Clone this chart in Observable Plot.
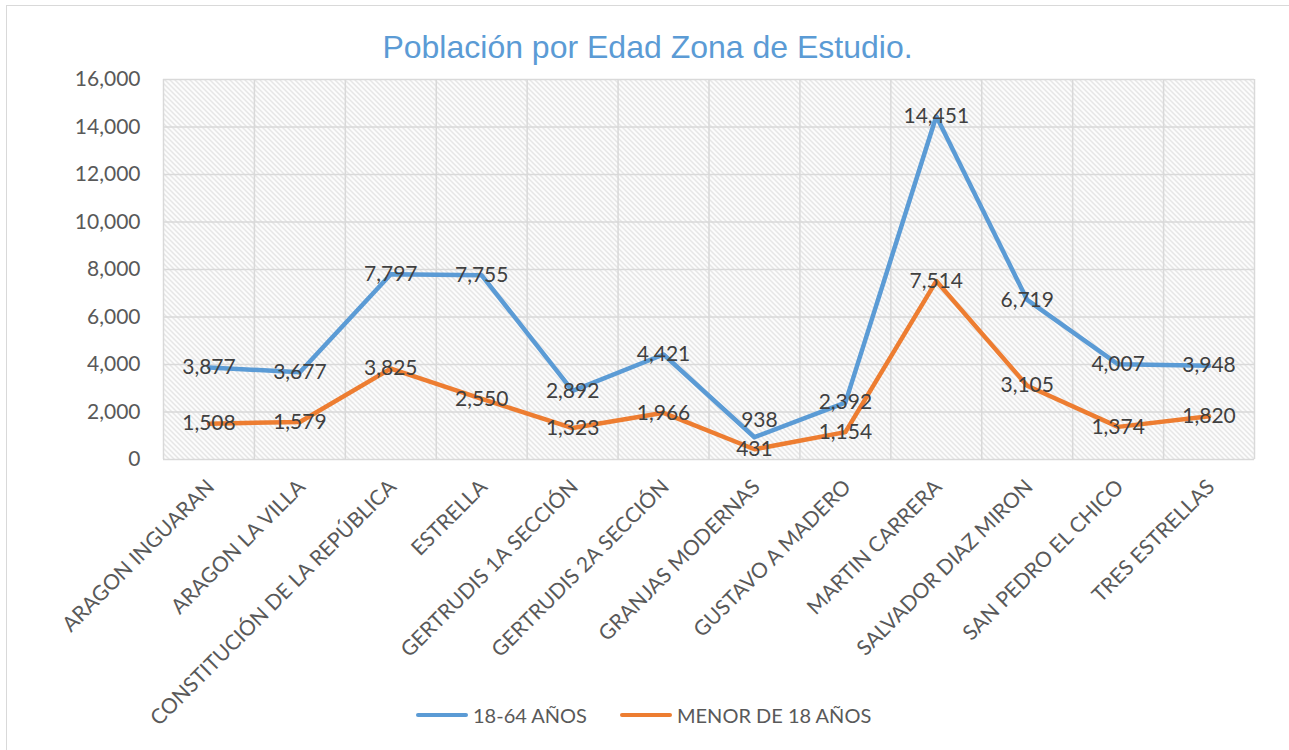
<!DOCTYPE html>
<html>
<head>
<meta charset="utf-8">
<script src="https://cdn.jsdelivr.net/npm/d3@7"></script>
<script src="https://cdn.jsdelivr.net/npm/@observablehq/plot@0.6"></script>
<style>
  html, body { margin: 0; padding: 0; background: #fff; }
  #wrap { position: relative; width: 1289px; height: 750px; overflow: hidden; }
  #border { position: absolute; left: 6px; top: 5px; width: 1300px; height: 760px; border: 1.5px solid #d9d9d9; box-sizing: border-box; }
  #title { position: absolute; left: 0; top: 31px; width: 1295px; text-align: center;
    font-family: "Liberation Sans", Arial, sans-serif; font-size: 32px; line-height: 32px; color: #5B9BD5; }
  #chart { position: absolute; left: 0; top: 60px; }
  #legend { position: absolute; left: 0; top: 700px; width: 1289px; height: 30px; font-family: Lato, sans-serif;
    font-size: 20px; color: #595959; }
  .item { position: absolute; top: 0; display: flex; align-items: center; height: 30px; }
  .swatch { width: 52px; height: 4px; border-radius: 2px; margin-right: 5px; }
</style>
</head>
<body>
<div id="wrap">
  <div id="border"></div>
  <div id="title">Población por Edad Zona de Estudio.</div>
  <div id="chart"></div>
  <div id="legend"></div>
</div>
<script>
const categories = [
  "ARAGON INGUARAN", "ARAGON LA VILLA", "CONSTITUCIÓN DE LA REPÚBLICA", "ESTRELLA",
  "GERTRUDIS 1A SECCIÓN", "GERTRUDIS 2A SECCIÓN", "GRANJAS MODERNAS", "GUSTAVO A MADERO",
  "MARTIN CARRERA", "SALVADOR DIAZ MIRON", "SAN PEDRO EL CHICO", "TRES ESTRELLAS"
];
const adultos = [3877, 3677, 7797, 7755, 2892, 4421, 938, 2392, 14451, 6719, 4007, 3948];
const menores = [1508, 1579, 3825, 2550, 1323, 1966, 431, 1154, 7514, 3105, 1374, 1820];
const seriesNames = ["18-64 AÑOS", "MENOR DE 18 AÑOS"];
const seriesColors = ["#5B9BD5", "#ED7D31"];
const yTicks = [0, 2000, 4000, 6000, 8000, 10000, 12000, 14000, 16000];

const rows = [];
categories.forEach((c, i) => {
  rows.push({i, cat: c, serie: seriesNames[0], v: adultos[i]});
  rows.push({i, cat: c, serie: seriesNames[1], v: menores[i]});
});
const edges = d3.range(categories.length + 1).map(k => k - 0.5);
const fmt = d3.format(",");
// the label of the lowest adult value sits above its point (as in the original)
const raised = d => d.serie === seriesNames[0] && d.v === d3.min(adultos);

const chart = Plot.plot({
  width: 1289,
  height: 690,
  marginLeft: 163,
  marginRight: 35,
  marginTop: 19,
  marginBottom: 291,
  style: {fontFamily: "Lato, sans-serif", background: "transparent"},
  x: {domain: [-0.5, categories.length - 0.5]},
  y: {domain: [0, 16000]},
  color: {domain: seriesNames, range: seriesColors},
  marks: [
    Plot.frame({fill: "url(#hatch)", stroke: "none"}),
    Plot.ruleY(yTicks, {stroke: "#d9d9d9", strokeWidth: 1.5}),
    Plot.ruleX(edges, {stroke: "#d9d9d9", strokeWidth: 1.5}),
    Plot.axisY({ticks: yTicks, tickFormat: fmt, tickSize: 0, tickPadding: 23, fontSize: 21, fill: "#595959", label: null}),
    Plot.axisX({ticks: d3.range(categories.length), tickFormat: i => categories[i], tickSize: 0, tickPadding: 24,
      tickRotate: -45, fontSize: 21, fill: "#595959", dx: 2, label: null}),
    Plot.line(rows, {x: "i", y: "v", z: "serie", stroke: "serie", strokeWidth: 4.5,
      strokeLinejoin: "round", strokeLinecap: "round"}),
    Plot.text(rows, {filter: d => !raised(d), x: "i", y: "v", text: d => fmt(d.v), fontSize: 21, fill: "#404040", lineAnchor: "middle"}),
    Plot.text(rows, {filter: raised, x: "i", y: "v", text: d => fmt(d.v), fontSize: 21, fill: "#404040", lineAnchor: "middle", dx: 5, dy: -17})
  ]
});

const svg = d3.select(chart);
const defs = svg.insert("defs", ":first-child");
const pat = defs.append("pattern").attr("id", "hatch").attr("patternUnits", "userSpaceOnUse")
  .attr("width", 5).attr("height", 5);
pat.append("rect").attr("width", 5).attr("height", 5).attr("fill", "#ffffff");
pat.append("path").attr("d", "M-1,-1 L6,6 M-1,4 L1,6 M4,-1 L6,1")
  .attr("stroke", "#d8d8d8").attr("stroke-width", 1.1);
document.getElementById("chart").appendChild(chart);

const legend = document.getElementById("legend");
const lefts = [416, 620];
seriesNames.forEach((n, k) => {
  const it = document.createElement("div");
  it.className = "item";
  it.style.left = lefts[k] + "px";
  it.innerHTML = `<div class="swatch" style="background:${seriesColors[k]}"></div><span>${n}</span>`;
  legend.appendChild(it);
});
</script>
</body>
</html>
